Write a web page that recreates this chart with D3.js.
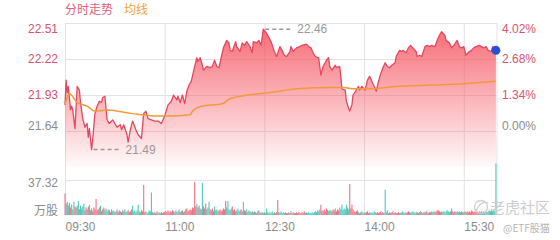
<!DOCTYPE html>
<html>
<head>
<meta charset="utf-8">
<script src="https://cdn.jsdelivr.net/npm/d3@7"></script>
<style>
body { margin: 0; background: #fff; }
svg { font-family: "Liberation Sans", Arial, sans-serif; }
</style>
</head>
<body>
<svg id="chart" width="560" height="240"></svg>
<script>
// price line (time, price)
var times = ['09:30','09:31','09:32','09:33','09:35','09:36','09:37','09:39','09:41','09:43','09:44','09:46','09:48','09:50','09:51','09:52','09:54','09:55','09:57','09:59',
  '10:01','10:03','10:04','10:06','10:08','10:10','10:13','10:17','10:20','10:21','10:23','10:26','10:27','10:29','10:31','10:34','10:36','10:39','10:41','10:43',
  '10:45','10:48','10:51','10:54','10:57','10:59','11:00','11:03','11:06','11:08','11:11','11:12','11:14','11:16','11:18','11:20','11:22','11:24','11:26','11:29',
  '11:30','11:32','11:34','11:35','11:38','11:41','11:43','11:45','11:47','11:49','11:51','11:53','11:56','11:58','11:59','12:01','12:04','12:05','12:08','12:10',
  '12:12','12:14','12:17','12:19','12:20','12:23','12:25','12:27','12:29','12:31','12:33','12:36','12:39','12:41','12:44','12:46','12:48','12:50','12:53','12:54',
  '12:56','12:59','13:02','13:04','13:08','13:10','13:12','13:14','13:16','13:19','13:21','13:23','13:26','13:28','13:29','13:31','13:34','13:35','13:38','13:39',
  '13:40','13:43','13:44','13:47','13:49','13:50','13:53','13:55','13:56','13:58','14:01','14:03','14:05','14:07','14:09','14:11','14:13','14:15','14:17','14:19',
  '14:21','14:23','14:25','14:28','14:29','14:32','14:34','14:35','14:38','14:40','14:42','14:44','14:47','14:48','14:50','14:52','14:55','14:57','14:59','15:01',
  '15:04','15:06','15:08','15:10','15:13','15:14','15:17','15:19','15:21','15:24','15:26','15:28','15:30','15:32','15:35','15:37','15:39','15:41','15:44','15:46',
  '15:48','15:50','15:52','15:55','15:56','15:59'];
var prices = [21.85,22.05,21.95,22.00,21.81,21.84,21.81,21.66,22.00,21.97,21.87,21.74,21.67,21.70,21.59,21.66,21.49,21.57,21.78,21.84,
  21.88,21.87,21.91,21.92,21.73,21.70,21.73,21.67,21.69,21.65,21.69,21.61,21.55,21.65,21.72,21.65,21.61,21.58,21.78,21.80,
  21.74,21.73,21.72,21.72,21.70,21.74,21.76,21.85,21.88,21.93,21.89,21.92,21.87,21.93,21.86,21.96,22.01,22.04,22.12,22.23,
  22.20,22.23,22.17,22.13,22.16,22.15,22.16,22.21,22.16,22.15,22.23,22.31,22.37,22.35,22.29,22.28,22.36,22.32,22.28,22.35,
  22.33,22.36,22.32,22.27,22.36,22.35,22.37,22.33,22.46,22.44,22.41,22.36,22.28,22.24,22.32,22.29,22.25,22.24,22.28,22.32,
  22.28,22.31,22.32,22.33,22.34,22.32,22.31,22.27,22.24,22.23,22.09,22.16,22.21,22.23,22.16,22.13,22.17,22.15,22.16,22.08,
  21.98,21.97,21.88,21.80,21.85,21.93,21.97,22.00,21.97,22.00,21.97,22.05,22.08,22.04,22.00,21.96,22.04,22.10,22.15,22.19,
  22.16,22.15,22.17,22.19,22.24,22.29,22.28,22.29,22.27,22.31,22.33,22.31,22.28,22.24,22.25,22.24,22.32,22.33,22.32,22.33,
  22.32,22.37,22.41,22.44,22.41,22.37,22.35,22.31,22.33,22.37,22.32,22.31,22.32,22.25,22.28,22.29,22.31,22.32,22.33,22.32,
  22.31,22.32,22.29,22.28,22.32,22.29];

// average price line
var avgTimes = ['09:30','09:32','09:34','09:41','09:50','09:57','10:08','10:31','10:56','11:02','11:23','11:25','11:33','11:52','11:59','12:15','12:35','13:00','13:30','13:42','13:51','14:05','14:30','15:00','15:30','15:59'];
var avgPrices = [21.85,21.91,21.94,21.87,21.84,21.80,21.81,21.78,21.76,21.76,21.77,21.80,21.84,21.86,21.90,21.93,21.95,21.98,21.99,21.99,21.98,21.98,22.00,22.01,22.02,22.04];

// volume per minute from 09:30 (万股)
var volumes = [
  23,12,14,10,13,8,11,6,14,9, 8,10,15,6,10,7,9,12,5,8, 6,9,11,5,7,4,8,6,17,5,
  6,8,10,4,6,8,5,7,4,6, 5,3,6,4,5,3,4,6,3,5, 4,3,5,4,6,3,4,5,3,4,
  6,10,4,5,3,5,11,4,3,5, 4,32,3,4,2,3,5,4,24,3, 2,3,2,4,2,3,2,3,2,3,
  3,4,3,5,3,4,3,5,4,3, 5,3,4,6,3,4,5,3,4,6, 7,4,5,6,5,8,7,35,9,12,
  8,10,7,6,34,9,7,12,6,8, 14,6,5,7,4,9,5,6,4,5, 6,4,5,7,6,15,8,15,6,5,
  7,9,5,6,4,5,7,4,5,6, 4,14,5,4,6,3,5,4,3,4, 3,4,3,2,4,5,3,2,3,2,
  3,2,7,3,2,3,2,4,2,3, 2,3,16,3,2,4,2,3,2,3, 2,2,3,2,4,2,3,2,2,3,
  2,3,2,2,3,2,4,2,3,2, 3,2,2,3,2,3,4,3,5,4, 6,11,5,4,6,4,7,5,4,5,
  5,4,6,5,7,4,6,5,8,6, 11,5,7,6,11,8,6,33,7,11, 6,4,3,4,5,3,2,3,4,2,
  3,2,3,4,2,3,2,3,2,4, 3,2,3,2,3,4,2,3,2,27, 3,5,2,3,2,3,4,2,3,2,
  2,3,2,2,3,4,2,3,2,3, 4,3,2,3,4,3,2,3,3,2, 3,4,3,2,3,3,4,3,2,3,
  3,4,3,4,3,4,5,5,4,3, 4,3,4,3,4,5,4,3,4,7, 4,3,4,3,4,3,4,3,4,3,
  3,4,3,4,3,4,3,5,4,3, 4,3,4,3,4,3,4,3,4,3, 4,3,4,5,4,6,4,5,4,55
];

var priceTicks = [22.51, 22.22, 21.93, 21.64];
var prevClose = 21.64;
var volTicks = [37.32];
var timeTicks = ['09:30', '11:00', '12:30', '14:00', '15:30'];
var highMark = { time: '12:29', price: 22.46 };
var lowMark = { time: '09:54', price: 21.49 };

var plotLeft = 65, plotRight = 497, plotTop = 23, priceBottom = 167, volBottom = 215;
var red = '#e6475f', upRed = '#ee5a70', downTeal = '#33bfae', grey = '#8c8c8c', gridColor = '#e3e3e3';

function toMin(s) {
    var p = s.split(':');
    return (+p[0]) * 60 + (+p[1]) - 570;
}

var svg = d3.select('#chart');

var x = d3.scaleLinear().domain([0, 390]).range([plotLeft, plotRight]);
var y = d3.scaleLinear().domain([prevClose, priceTicks[0]]).range([131, plotTop]);
var yv = d3.scaleLinear().domain([0, volTicks[0]]).range([volBottom, 180]);

// gradient for the area under the price line
var grad = svg.append('defs').append('linearGradient')
    .attr('id', 'areaFill')
    .attr('gradientUnits', 'userSpaceOnUse')
    .attr('x1', 0).attr('y1', plotTop).attr('x2', 0).attr('y2', priceBottom);
grad.append('stop').attr('offset', 0).attr('stop-color', '#f5525e').attr('stop-opacity', 0.88);
grad.append('stop').attr('offset', 1).attr('stop-color', '#f5525e').attr('stop-opacity', 0.03);

// grid + axes
var xAxis = d3.axisBottom(x)
    .tickValues(timeTicks.map(toMin))
    .tickSize(-(volBottom - plotTop))
    .tickPadding(7)
    .tickFormat(function (d, i) { return timeTicks[i]; });
var gx = svg.append('g').attr('transform', 'translate(0,' + volBottom + ')').call(xAxis);
gx.select('.domain').remove();
gx.selectAll('line').attr('stroke', gridColor);
gx.selectAll('text').attr('text-anchor', 'start').attr('fill', grey).style('font-size', '12px');

var yAxis = d3.axisLeft(y)
    .tickValues(priceTicks)
    .tickSize(-(plotRight - plotLeft))
    .tickPadding(7)
    .tickFormat(d3.format('.2f'));
var gy = svg.append('g').attr('transform', 'translate(' + plotLeft + ',0)').call(yAxis);
gy.select('.domain').remove();
gy.selectAll('line').attr('stroke', gridColor);
gy.selectAll('text')
    .attr('fill', function (d) { return d > prevClose ? '#d9546c' : grey; })
    .attr('dy', function (d, i) { return i === 0 ? '0.82em' : (i === priceTicks.length - 1 ? '-0.1em' : '0.32em'); })
    .style('font-size', '12px');

var pctAxis = d3.axisRight(y)
    .tickValues(priceTicks)
    .tickSize(0)
    .tickPadding(5)
    .tickFormat(function (d) { return ((d / prevClose - 1) * 100).toFixed(2) + '%'; });
var gp = svg.append('g').attr('transform', 'translate(' + plotRight + ',0)').call(pctAxis);
gp.select('.domain').remove();
gp.selectAll('text')
    .attr('fill', function (d) { return d > prevClose ? '#d9546c' : grey; })
    .attr('dy', function (d, i) { return i === 0 ? '0.82em' : (i === priceTicks.length - 1 ? '-0.1em' : '0.32em'); })
    .style('font-size', '12px');

var vAxis = d3.axisLeft(yv)
    .tickValues(volTicks)
    .tickSize(-(plotRight - plotLeft))
    .tickPadding(7)
    .tickFormat(d3.format('.2f'));
var gv = svg.append('g').attr('transform', 'translate(' + plotLeft + ',0)').call(vAxis);
gv.select('.domain').remove();
gv.selectAll('line').attr('stroke', gridColor);
gv.selectAll('text').attr('fill', grey).attr('dy', '0.55em').style('font-size', '12px');

svg.append('text')
    .attr('x', plotLeft - 7).attr('y', 215)
    .attr('text-anchor', 'end')
    .attr('fill', grey)
    .style('font-size', '12px')
    .style('font-family', '"Noto Sans CJK SC", sans-serif')
    .text('万股');

// right border
svg.append('line')
    .attr('x1', plotRight).attr('x2', plotRight).attr('y1', plotTop).attr('y2', volBottom)
    .attr('stroke', gridColor);

// price area + line
var pts = times.map(function (t, i) { return { m: toMin(t), p: prices[i] }; });

svg.append('path')
    .datum(pts)
    .attr('fill', 'url(#areaFill)')
    .attr('d', d3.area()
        .x(function (d) { return x(d.m); })
        .y0(priceBottom)
        .y1(function (d) { return y(d.p); }));

svg.append('path')
    .datum(pts)
    .attr('fill', 'none')
    .attr('stroke', red)
    .attr('stroke-width', 1.3)
    .attr('stroke-linejoin', 'round')
    .attr('d', d3.line()
        .x(function (d) { return x(d.m); })
        .y(function (d) { return y(d.p); }));

var avgPts = avgTimes.map(function (t, i) { return { m: toMin(t), p: avgPrices[i] }; });
svg.append('path')
    .datum(avgPts)
    .attr('fill', 'none')
    .attr('stroke', '#f29a3a')
    .attr('stroke-width', 1.5)
    .attr('d', d3.line()
        .curve(d3.curveMonotoneX)
        .x(function (d) { return x(d.m); })
        .y(function (d) { return y(d.p); }));

// volume bars, coloured by direction of the price segment
function isUp(m) {
    for (var i = 0; i < pts.length - 1; i++) {
        if (m >= pts[i].m && m < pts[i + 1].m) return pts[i + 1].p >= pts[i].p;
    }
    var n = pts.length - 1;
    return pts[n].p >= pts[n - 1].p;
}

svg.append('g').selectAll('rect')
    .data(volumes)
    .join('rect')
    .attr('x', function (d, i) { return x(i) - 0.5; })
    .attr('width', 1.1)
    .attr('y', function (d) { return yv(d); })
    .attr('height', function (d) { return volBottom - yv(d); })
    .attr('fill', function (d, i) { return isUp(i) ? upRed : downTeal; })
    .attr('fill-opacity', 0.85);

// high / low markers
[highMark, lowMark].forEach(function (mk) {
    var mx = x(toMin(mk.time)), my = y(mk.price);
    svg.append('line')
        .attr('x1', mx + 2).attr('x2', mx + 29)
        .attr('y1', my).attr('y2', my)
        .attr('stroke', '#999')
        .attr('stroke-width', 1.5)
        .attr('stroke-dasharray', '4,3');
    svg.append('text')
        .attr('x', mx + 34).attr('y', my)
        .attr('dy', '0.35em')
        .attr('fill', '#999')
        .style('font-size', '12px')
        .text(mk.price.toFixed(2));
});

// last price dot
var last = pts[pts.length - 1];
svg.append('circle')
    .attr('cx', x(last.m)).attr('cy', y(last.p))
    .attr('r', 4.5)
    .attr('fill', '#2a4fd6');

// legend
svg.append('text')
    .attr('x', 65).attr('y', 14)
    .attr('fill', '#e0607a')
    .style('font-size', '12px')
    .style('font-family', '"Noto Sans CJK SC", sans-serif')
    .text('分时走势');
svg.append('text')
    .attr('x', 124).attr('y', 14)
    .attr('fill', '#f0a040')
    .style('font-size', '12px')
    .style('font-family', '"Noto Sans CJK SC", sans-serif')
    .text('均线');

// watermark
var wm = svg.append('g').attr('fill', 'none').attr('stroke', '#cfcfcf').attr('stroke-width', 1.3);
wm.append('circle').attr('cx', 481).attr('cy', 207).attr('r', 6.5);
wm.append('path').attr('d', 'M476,211 Q481,200 488,203');
svg.append('text')
    .attr('x', 490).attr('y', 213)
    .attr('fill', '#cdcdcd')
    .style('font-size', '15px')
    .style('font-family', '"Noto Sans CJK SC", sans-serif')
    .text('老虎社区');
svg.append('text')
    .attr('x', 503).attr('y', 232)
    .attr('fill', '#b5b5b5')
    .style('font-size', '10px')
    .style('font-family', '"Noto Sans CJK SC", sans-serif')
    .text('@ETF股猫');
</script>
</body>
</html>
